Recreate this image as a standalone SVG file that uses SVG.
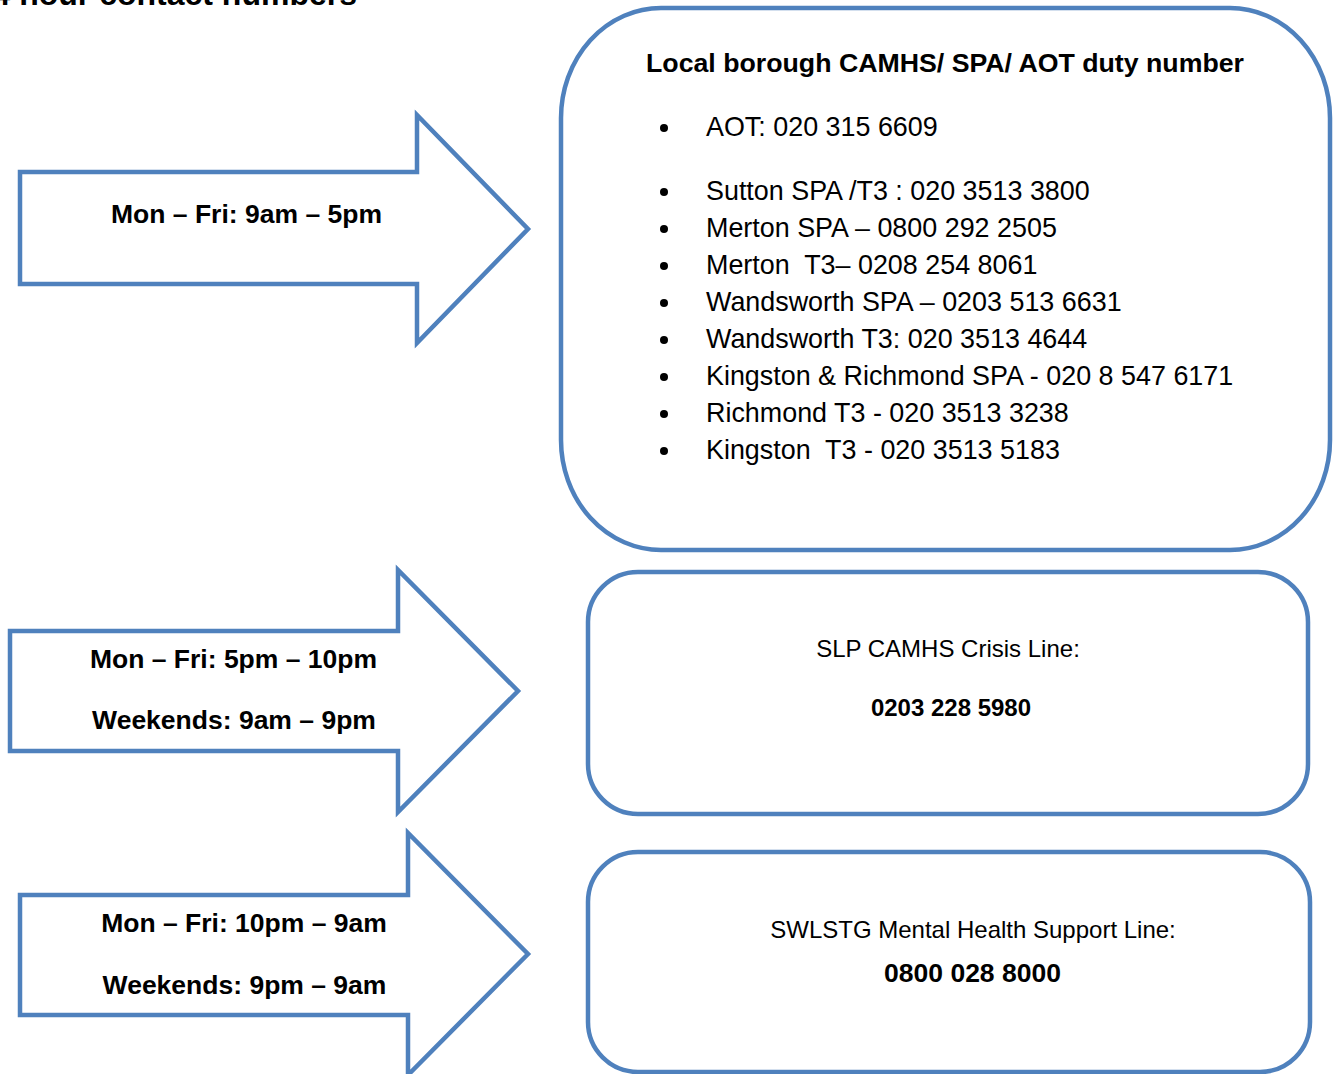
<svg xmlns="http://www.w3.org/2000/svg" width="1335" height="1074" viewBox="0 0 1335 1074">
<style>
.shape{fill:#fff;stroke:#4f81bd;stroke-width:4.5;stroke-linejoin:miter}
.b{font-family:"Liberation Sans",Arial,sans-serif;font-weight:bold;fill:#000}
.r{font-family:"Liberation Sans",Arial,sans-serif;fill:#000}
.lbl{font-size:26.5px;text-anchor:middle}
.li{font-size:26.9px}
</style>
<rect width="1335" height="1074" fill="#fff"/>
<text class="b" x="357" y="5" font-size="32" text-anchor="end">24 hour contact numbers</text>

<g id="arrow1">
<path class="shape" d="M20,172 H417 V115 L528,229 L417,343 V284 H20 Z"/>
<text class="b lbl" x="246.5" y="223">Mon – Fri: 9am – 5pm</text>
</g>
<g id="arrow2">
<path class="shape" d="M10,631 H398 V570 L518,691 L398,812 V751 H10 Z"/>
<text class="b lbl" x="233.5" y="668">Mon – Fri: 5pm – 10pm</text>
<text class="b lbl" x="234" y="729">Weekends: 9am – 9pm</text>
</g>
<g id="arrow3">
<path class="shape" d="M20,895 H408 V833 L528,954 L408,1075 V1015 H20 Z"/>
<text class="b lbl" x="244" y="932">Mon – Fri: 10pm – 9am</text>
<text class="b lbl" x="244.5" y="994">Weekends: 9pm – 9am</text>
</g>

<g id="box-local">
<rect class="shape" x="561" y="8" width="769" height="542" rx="100" ry="110"/>
<text class="b" x="646" y="72" font-size="26.5" textLength="598" lengthAdjust="spacingAndGlyphs">Local borough CAMHS/ SPA/ AOT duty number</text>
<g fill="#000">
<circle cx="664" cy="128" r="4"/>
<circle cx="664" cy="192" r="4"/>
<circle cx="664" cy="229" r="4"/>
<circle cx="664" cy="266" r="4"/>
<circle cx="664" cy="303" r="4"/>
<circle cx="664" cy="340" r="4"/>
<circle cx="664" cy="377" r="4"/>
<circle cx="664" cy="414" r="4"/>
<circle cx="664" cy="451" r="4"/>
</g>
<text class="r li" x="706" y="136">AOT: 020 315 6609</text>
<text class="r li" x="706" y="200">Sutton SPA /T3 : 020 3513 3800</text>
<text class="r li" x="706" y="237">Merton SPA – 0800 292 2505</text>
<text class="r li" x="706" y="274" xml:space="preserve">Merton  T3– 0208 254 8061</text>
<text class="r li" x="706" y="311">Wandsworth SPA – 0203 513 6631</text>
<text class="r li" x="706" y="348">Wandsworth T3: 020 3513 4644</text>
<text class="r li" x="706" y="385">Kingston &amp; Richmond SPA - 020 8 547 6171</text>
<text class="r li" x="706" y="422">Richmond T3 - 020 3513 3238</text>
<text class="r li" x="706" y="459" xml:space="preserve">Kingston  T3 - 020 3513 5183</text>
</g>

<g id="box-crisis">
<rect class="shape" x="588" y="572" width="720" height="242" rx="50" ry="50"/>
<text class="r" x="948" y="657" font-size="24" text-anchor="middle">SLP CAMHS Crisis Line:</text>
<text class="b" x="951" y="716" font-size="24" text-anchor="middle">0203 228 5980</text>
</g>

<g id="box-support">
<rect class="shape" x="588" y="852" width="722" height="220" rx="50" ry="50"/>
<text class="r" x="973" y="938" font-size="24" text-anchor="middle">SWLSTG Mental Health Support Line:</text>
<text class="b" x="972.5" y="982" font-size="26.5" text-anchor="middle">0800 028 8000</text>
</g>
<g id="connectors"/>
</svg>
